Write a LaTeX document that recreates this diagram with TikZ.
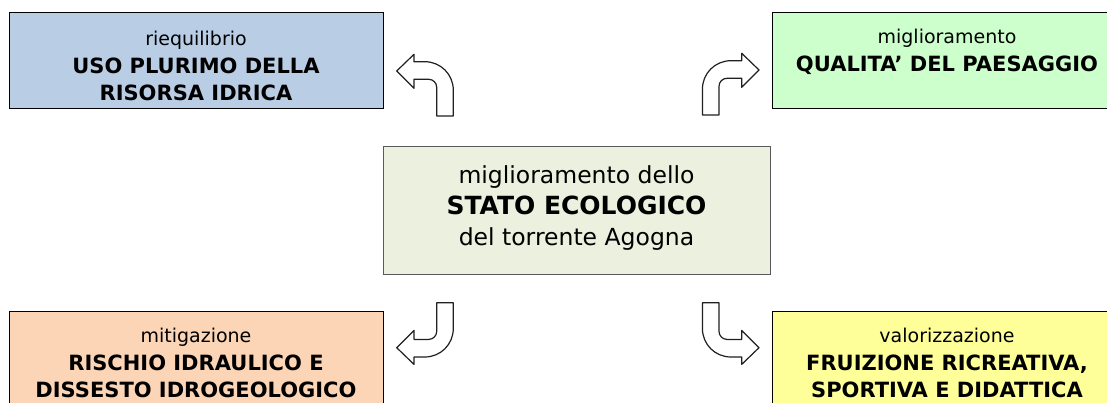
\documentclass[tikz,border=0pt]{standalone}
\usepackage{fontspec}
\setmainfont{DejaVu Sans}
\definecolor{tlblue}{HTML}{B9CDE5}
\definecolor{trgreen}{HTML}{CCFFCC}
\definecolor{cgreen}{HTML}{EBF1DE}
\definecolor{blorange}{HTML}{FBD5B5}
\definecolor{bryellow}{HTML}{FFFF99}
\definecolor{cborder}{HTML}{5A5A5A}
\definecolor{arrowgray}{HTML}{202020}
\newcommand{\sreg}{\fontsize{19}{27.5}\selectfont}
\newcommand{\sbold}{\fontsize{21}{27.5}\selectfont\bfseries}
\newcommand{\creg}{\fontsize{23.5}{31}\selectfont}
\newcommand{\cbold}{\fontsize{25}{31}\selectfont\bfseries}
\tikzset{
  sidebox/.style={draw=black, line width=1.1pt, rectangle, inner sep=0pt, anchor=north west, minimum width=374pt, minimum height=96pt},
  centerbox/.style={draw=cborder, line width=1.4pt, rectangle, inner sep=0pt, anchor=north west, minimum width=387pt, minimum height=128pt, fill=cgreen},
  sidetext/.style={align=center, inner sep=0pt, font=\sreg},
  centertext/.style={align=center, inner sep=0pt, font=\creg},
  arrowline/.style={draw=arrowgray, line width=1.2pt, fill=white, line join=round},
  barrow/.pic={\path[arrowline] (0,0) -- (17.3,-16.7) -- (17.3,-9.3) -- (28,-9.3)
     .. controls (44,-9.3) and (56.6,3.3) .. (56.6,19.3) -- (56.6,45) -- (40,45) -- (40,16.3)
     .. controls (40,11.9) and (36.4,8.3) .. (32,8.3) -- (17.3,8.3) -- (17.3,17.3) -- cycle;}
}
\begin{document}
\begin{tikzpicture}[x=1pt,y=-1pt]
\useasboundingbox (0,0) rectangle (1107,403);
\clip (0,0) rectangle (1107,403);
\fill[white] (0,0) rectangle (1107,403);
% boxes
\node[sidebox, fill=tlblue] (tl) at (9,12) {};
\node[sidebox, fill=trgreen, minimum width=352pt] (tr) at (772,12) {};
\node[centerbox] (c) at (383,146) {};
\node[sidebox, fill=blorange] (bl) at (9,311) {};
\node[sidebox, fill=bryellow, minimum width=352pt] (br) at (772,311) {};
% texts
\node[sidetext] (tlt) at (196,66) {riequilibrio\\{\sbold USO PLURIMO DELLA}\\{\sbold RISORSA IDRICA}};
\node[sidetext] (trt) at (947,52) {miglioramento\\{\sbold QUALITA’ DEL PAESAGGIO}};
\node[centertext] (ct) at (576.5,208) {miglioramento dello\\{\cbold STATO ECOLOGICO}\\del torrente Agogna};
\node[sidetext] (blt) at (196,363) {mitigazione\\{\sbold RISCHIO IDRAULICO E}\\{\sbold DISSESTO IDROGEOLOGICO}};
\node[sidetext] (brt) at (947,363) {valorizzazione\\{\sbold FRUIZIONE RICREATIVA,}\\{\sbold SPORTIVA E DIDATTICA}};
% block arrows
\pic (a1) at (396.7,71) {barrow};
\pic[xscale=-1] (a2) at (759,70) {barrow};
\pic[yscale=-1] (a3) at (396.7,347.7) {barrow};
\pic[xscale=-1,yscale=-1] (a4) at (759,347.7) {barrow};
\end{tikzpicture}
\end{document}
